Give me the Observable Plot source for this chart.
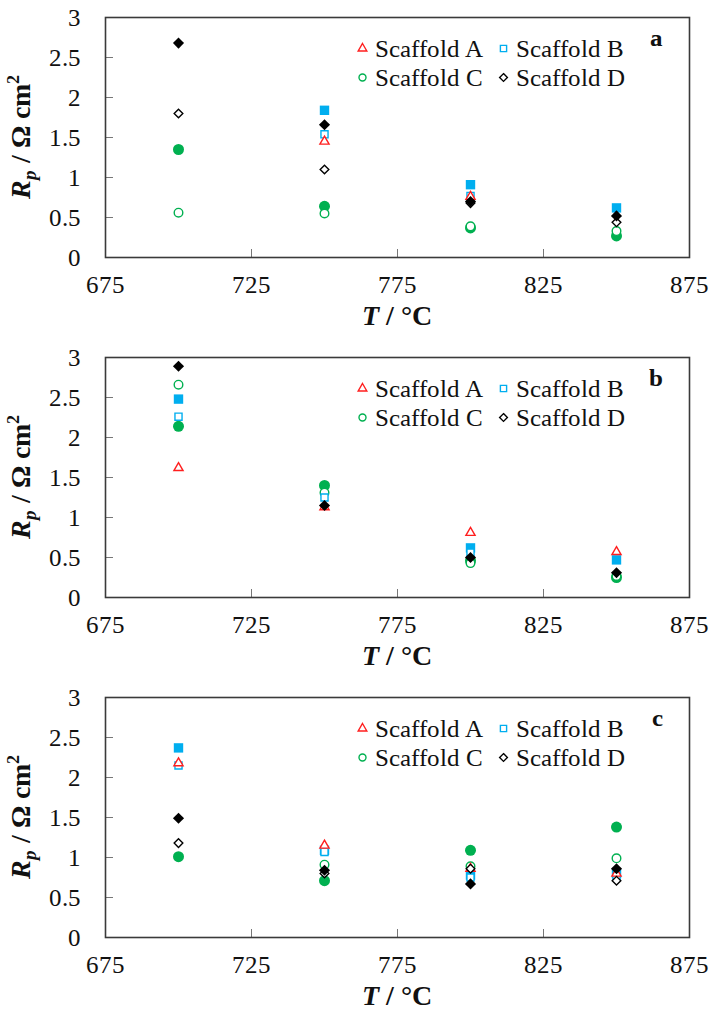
<!DOCTYPE html>
<html>
<head>
<meta charset="utf-8">
<script src="https://cdn.jsdelivr.net/npm/d3@7"></script>
<script src="https://cdn.jsdelivr.net/npm/@observablehq/plot@0.6"></script>
<style>
  @font-face { font-family: "ChartSerif"; font-weight: 400; font-style: normal;
    src: local("Liberation Serif"), local("LiberationSerif"), local("Liberation Serif Regular"); }
  @font-face { font-family: "ChartSerif"; font-weight: 700; font-style: normal;
    src: local("Liberation Serif Bold"), local("LiberationSerif-Bold"); }
  @font-face { font-family: "ChartSerif"; font-weight: 400; font-style: italic;
    src: local("Liberation Serif Italic"), local("LiberationSerif-Italic"); }
  @font-face { font-family: "ChartSerif"; font-weight: 700; font-style: italic;
    src: local("Liberation Serif Bold Italic"), local("LiberationSerif-BoldItalic"); }
  html, body { margin: 0; padding: 0; background: #fff; font-family: "ChartSerif", "Liberation Serif", serif; }
  #charts svg { display: block; }
  #charts svg text, #charts svg tspan { font-family: "ChartSerif", "Liberation Serif", serif; }
</style>
</head>
<body>
<div id="charts"></div>
<script>
// Polarisation resistance of the four scaffolds against temperature
const temps = [700, 750, 800, 850];
const scaffolds = ["Scaffold A", "Scaffold B", "Scaffold C", "Scaffold D"];
const colors = ["#ff1f1f", "#00aeef", "#00b050", "#000000"];
const symbols = ["triangle", "square", "circle", "diamond2"];
const xTicks = [675, 725, 775, 825, 875];
const yTicks = [0, 0.5, 1, 1.5, 2, 2.5, 3];
const panelLabels = ["a", "b", "c"];

// Panel a: open symbols
const aOpenA = [null, 1.45, 0.76, null];
const aOpenB = [null, 1.54, 0.77, null];
const aOpenC = [0.56, 0.55, 0.39, 0.33];
const aOpenD = [1.80, 1.10, 0.68, 0.44];
// Panel a: filled symbols
const aFillB = [null, 1.84, 0.91, 0.62];
const aFillC = [1.35, 0.64, 0.37, 0.27];
const aFillD = [2.68, 1.66, 0.70, 0.52];

// Panel b: open symbols
const bOpenA = [1.62, 1.13, 0.81, 0.57];
const bOpenB = [2.26, 1.25, 0.56, null];
const bOpenC = [2.66, 1.31, 0.43, 0.27];
const bOpenD = [null, null, null, null];
// Panel b: filled symbols
const bFillB = [2.48, null, 0.62, 0.47];
const bFillC = [2.14, 1.40, 0.46, 0.25];
const bFillD = [2.89, 1.15, 0.50, 0.31];

// Panel c: open symbols
const cOpenA = [2.18, 1.15, 0.86, 0.80];
const cOpenB = [2.15, 1.07, 0.75, 0.77];
const cOpenC = [null, 0.91, 0.89, 0.99];
const cOpenD = [1.18, 0.80, 0.86, 0.71];
// Panel c: filled symbols
const cFillB = [2.37, 1.09, 0.78, 0.80];
const cFillC = [1.01, 0.71, 1.09, 1.38];
const cFillD = [1.49, 0.84, 0.67, 0.86];

const panels = [
  {open: [aOpenA, aOpenB, aOpenC, aOpenD], filled: [null, aFillB, aFillC, aFillD]},
  {open: [bOpenA, bOpenB, bOpenC, bOpenD], filled: [null, bFillB, bFillC, bFillD]},
  {open: [cOpenA, cOpenB, cOpenC, cOpenD], filled: [null, cFillB, cFillC, cFillD]}
];

const FONT = "ChartSerif, Liberation Serif, serif";
const W = 712, MT = 17, ML = 105, MR = 23, FRAME_H = 240;

function rows(values) {
  if (!values) return [];
  return temps.map((T, i) => ({T, Rp: values[i]})).filter(d => d.Rp != null);
}

// drawing order so that overlapping markers stack correctly
const order = [
  {s: 2, filled: true}, {s: 2, filled: false},
  {s: 1, filled: true}, {s: 1, filled: false},
  {s: 0, filled: false},
  {s: 3, filled: false}, {s: 3, filled: true}
];

const openR = {triangle: 3.4, square: 4.0, circle: 4.3, diamond2: 3.9};
const fillR = {triangle: 4.5, square: 5.3, circle: 5.5, diamond2: 5.0};

function seriesMarks(panel) {
  return order.map(({s, filled}) => {
    const data = rows(filled ? panel.filled[s] : panel.open[s]);
    const sym = symbols[s];
    return Plot.dot(data, {
      x: "T", y: "Rp", symbol: sym, r: filled ? fillR[sym] : openR[sym],
      fill: filled ? colors[s] : "white",
      stroke: filled ? "none" : colors[s],
      strokeWidth: 1.4
    });
  });
}

function legendMarks() {
  const cols = [257, 398], rowsY = [31, 60];
  const marks = [];
  scaffolds.forEach((name, i) => {
    const dx = cols[i % 2], dy = rowsY[Math.floor(i / 2)];
    marks.push(Plot.dot([name], {
      frameAnchor: "top-left", dx, dy, symbol: symbols[i], r: symbols[i] === "triangle" ? 3.2 : 3.5,
      fill: "white", stroke: colors[i], strokeWidth: 1.4
    }));
    marks.push(Plot.text([name], {
      frameAnchor: "top-left", dx: dx + 12, dy, text: d => d,
      textAnchor: "start", lineAnchor: "middle", fontSize: 25, fontFamily: FONT, fill: "#111"
    }));
  });
  return marks;
}

function draw() {
  const host = document.getElementById("charts");
  host.replaceChildren();
  panels.forEach((panel, k) => {
    const H = k === 2 ? 331 : 340;
    const chart = Plot.plot({
      width: W, height: H,
      marginTop: MT, marginLeft: ML, marginRight: MR, marginBottom: H - MT - FRAME_H,
      style: {fontFamily: FONT, fontSize: "24px", background: "white"},
      x: {domain: [675, 875]},
      y: {domain: [0, 3]},
      marks: [
        Plot.axisX(xTicks, {tickSize: -8, text: null, stroke: "#777", label: null}),
        Plot.axisX(xTicks, {tickSize: 0, tickPadding: 18, tickFormat: d => String(d), fontSize: 25, fontFamily: FONT, fill: "#111", label: null}),
        Plot.axisY(yTicks, {tickSize: -8, text: null, stroke: "#777", label: null}),
        Plot.axisY(yTicks, {tickSize: 0, tickPadding: 25, tickFormat: d => String(d), fontSize: 25, fontFamily: FONT, fill: "#111", label: null}),
        Plot.frame({stroke: "#3a3a3a", strokeWidth: 1.6}),
        ...seriesMarks(panel),
        ...legendMarks(),
        Plot.text([panelLabels[k]], {
          frameAnchor: "top-right", dx: -27, dy: 20, text: d => d,
          fontSize: 25, fontWeight: "bold", fontFamily: FONT, lineAnchor: "middle", fill: "#111"
        })
      ]
    });

    const svg = d3.select(chart);
    // y-axis title: R_p / Ω cm²
    const yt = svg.append("text")
      .attr("transform", `translate(30,${MT + FRAME_H / 2}) rotate(-90)`)
      .attr("text-anchor", "middle")
      .attr("font-family", FONT).attr("font-size", 28).attr("font-weight", "bold")
      .attr("fill", "#111");
    yt.append("tspan").attr("font-style", "italic").text("R");
    yt.append("tspan").attr("font-style", "italic").attr("font-size", 19).attr("dy", 6).text("p");
    yt.append("tspan").attr("dy", -6).text(" / Ω cm");
    yt.append("tspan").attr("font-size", 18).attr("dy", -11).text("2");

    // x-axis title: T / °C
    const xt = svg.append("text")
      .attr("x", ML + (W - ML - MR) / 2).attr("y", MT + FRAME_H + 68)
      .attr("text-anchor", "middle")
      .attr("font-family", FONT).attr("font-size", 28).attr("font-weight", "bold")
      .attr("fill", "#111");
    xt.append("tspan").attr("font-style", "italic").text("T");
    xt.append("tspan").text(" / °C");

    host.appendChild(chart);
  });
}

draw();
// redraw once the serif faces are resolved
if (document.fonts && document.fonts.load) {
  Promise.all([
    document.fonts.load("25px ChartSerif"),
    document.fonts.load("bold 25px ChartSerif"),
    document.fonts.load("italic bold 25px ChartSerif")
  ]).then(draw, draw);
}
</script>
</body>
</html>
